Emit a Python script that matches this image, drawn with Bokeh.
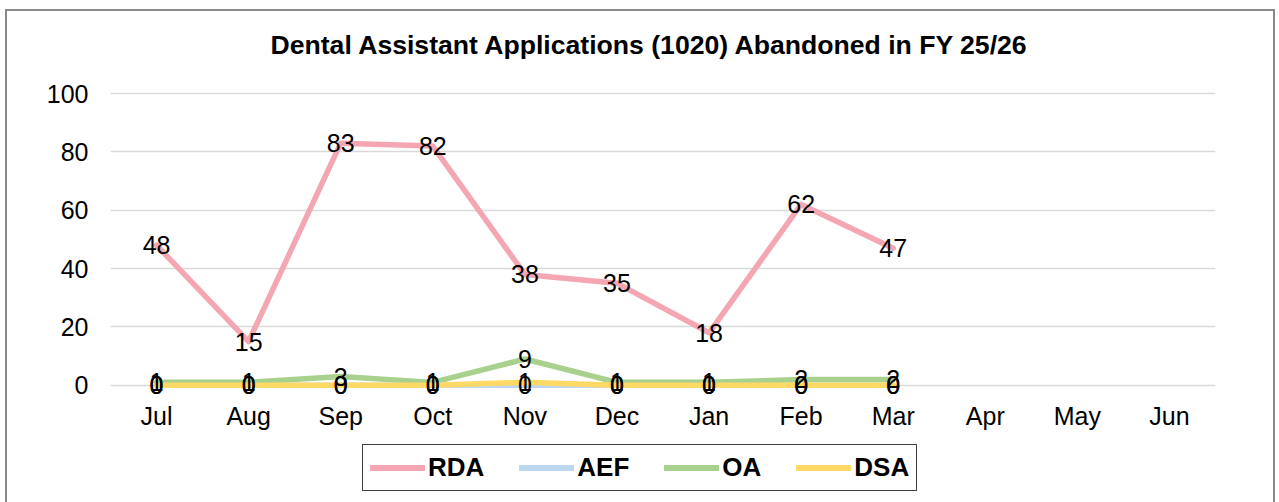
from bokeh.plotting import figure
from bokeh.layouts import column
from bokeh.models import FactorRange, Range1d, Legend, LegendItem, ColumnDataSource, Title
from bokeh.core.properties import value
from bokeh.embed import file_html
from bokeh.resources import INLINE

months = ["Jul", "Aug", "Sep", "Oct", "Nov", "Dec", "Jan", "Feb", "Mar", "Apr", "May", "Jun"]
data_months = ["Jul", "Aug", "Sep", "Oct", "Nov", "Dec", "Jan", "Feb", "Mar"]
rda = [48, 15, 83, 82, 38, 35, 18, 62, 47]
aef = [0, 0, 0, 0, 0, 0, 0, 0, 0]
oa = [1, 1, 3, 1, 9, 1, 1, 2, 2]
dsa = [0, 0, 0, 0, 1, 0, 0, 0, 0]
series_names = ["RDA", "AEF", "OA", "DSA"]
series_values = [rda, aef, oa, dsa]
colors = ["#F4A6B3", "#BDD7EE", "#A9D18E", "#FFD966"]
y_ticks = [0, 20, 40, 60, 80, 100]
title_text = "Dental Assistant Applications (1020) Abandoned in FY 25/26"

FONT = "Liberation Sans"
W = 1266

p = figure(width=W, height=425, x_range=FactorRange(factors=months, range_padding=0),
           y_range=Range1d(-3.5, 100.7), output_backend="svg", toolbar_location=None,
           min_border_left=103, min_border_right=58, min_border_top=80, min_border_bottom=41)
p.outline_line_color = None

# spacer between frame and title, then the title itself (stacked outward)
p.add_layout(Title(text=" ", text_font_size="1px", standoff=24), "above")
p.add_layout(Title(text=title_text, align="left", offset=160, standoff=10,
                   text_font=FONT, text_font_size="26.6px", text_font_style="bold",
                   text_color="black"), "above")

p.xgrid.grid_line_color = None
p.ygrid.grid_line_color = "#D9D9D9"
p.ygrid.grid_line_width = 1.5
p.yaxis.ticker = y_ticks
for ax in (p.xaxis[0], p.yaxis[0]):
    ax.axis_line_color = None
    ax.major_tick_line_color = None
    ax.minor_tick_line_color = None
    ax.major_label_text_font = FONT
    ax.major_label_text_font_size = "25px"
    ax.major_label_text_color = "black"
p.yaxis.major_label_standoff = 16
p.xaxis.major_label_standoff = 0

sources = []
for name, vals, col in zip(series_names, series_values, colors):
    src = ColumnDataSource(dict(x=data_months, y=vals, t=[str(v) for v in vals]))
    p.line("x", "y", source=src, line_color=col, line_width=5.5,
           line_join="round", line_cap="round")
    sources.append(src)

for src in sources:
    p.text("x", "y", text="t", source=src, text_align="center", text_baseline="middle",
           text_font=value(FONT), text_font_size="25px", text_color="black")

# legend strip below the chart (same series, out of the visible range)
pl = figure(width=W, height=68, x_range=FactorRange(factors=months, range_padding=0),
            y_range=Range1d(1000, 1001), output_backend="svg", toolbar_location=None,
            min_border=0, x_axis_location=None, y_axis_location=None)
pl.outline_line_color = None
pl.grid.visible = False
items = []
for name, src, col in zip(series_names, sources, colors):
    r = pl.line("x", "y", source=src, line_color=col, line_width=6, line_cap="round")
    items.append(LegendItem(label=name, renderers=[r]))

legend = Legend(items=items, orientation="horizontal", location=(252, 13),
                label_text_font=FONT, label_text_font_size="26px", label_text_font_style="bold",
                label_text_color="black", label_height=25, glyph_height=25,
                glyph_width=55, label_standoff=3, spacing=35,
                padding=7, margin=0, border_line_color="#404040", border_line_width=1.5,
                border_line_alpha=1.0)
pl.add_layout(legend, "center")

layout = column(p, pl, spacing=0, margin=(9, 0, 0, 5),
                styles={"border": "2px solid #8a8a8a"})

open("out.html", "w").write(file_html(layout, INLINE))
